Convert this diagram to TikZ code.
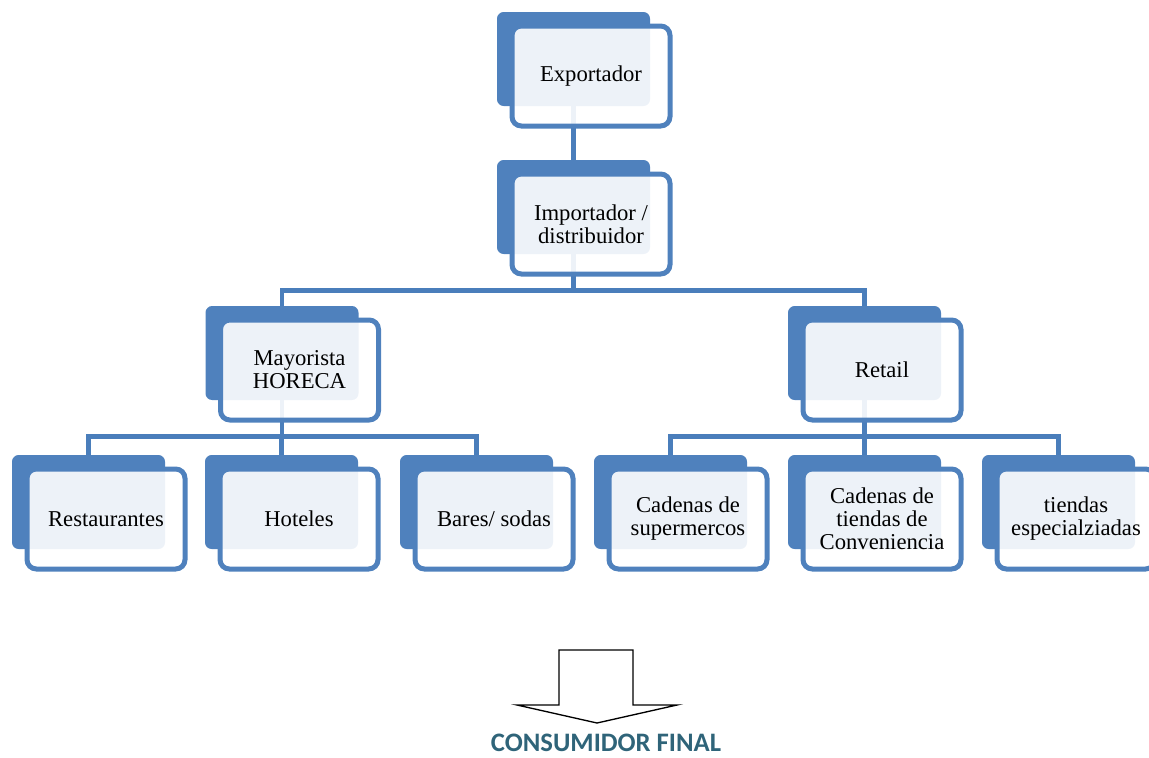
\documentclass[tikz,border=0pt]{standalone}
\usepackage{fontspec}
\setmainfont{Liberation Serif}
\newfontfamily\titlefont{Carlito}
\definecolor{boxblue}{HTML}{4F81BD}
\definecolor{linkblue}{HTML}{4A7EBB}
\definecolor{titleteal}{HTML}{2F6479}
\tikzset{
  backbox/.style={fill=boxblue, rounded corners=5pt, minimum width=114.75pt,
    minimum height=70.5pt, inner sep=0pt},
  frontbox/.style={draw=boxblue, line width=3.75pt, fill=white, fill opacity=0.9,
    text opacity=1, rounded corners=7pt, minimum width=118.5pt, minimum height=75pt,
    inner sep=2pt, align=center, font=\fontsize{17}{17.25}\selectfont},
  link/.style={draw=linkblue, line width=3.4pt}
}
\begin{document}
\begin{tikzpicture}[x=0.75pt, y=-0.75pt]
  \useasboundingbox (0,0) rectangle (1149,757);
  % back boxes
  \foreach \n/\x/\y in {exp/573.5/59, imp/573.5/207, may/282/353, ret/864.5/353,
      res/88.5/502, hot/281.5/502, bar/476.5/502, sup/670.5/502, con/864.5/502, esp/1058.5/502}
    \node[backbox] (\n) at (\x,\y) {};
  % links
  \draw[link] (exp.south) -- (imp.north);
  \draw[link] (imp.south) -- ++(0,36) -| (may.north);
  \draw[link] (imp.south) -- ++(0,36) -| (ret.north);
  \foreach \c in {res,hot,bar}
    \draw[link] (may.south) -- ++(0,36) -| (\c.north);
  \foreach \c in {sup,con,esp}
    \draw[link] (ret.south) -- ++(0,36) -| (\c.north);
  % front boxes
  \foreach \n/\t in {exp/{Exportador}, imp/{Importador /\\distribuidor},
      may/{Mayorista\\HORECA}, ret/{Retail}, res/{Restaurantes}, hot/{Hoteles},
      bar/{Bares/ sodas}, sup/{Cadenas de\\supermercos},
      con/{Cadenas de\\tiendas de\\Conveniencia}, esp/{tiendas\\especialziadas}}
    \node[frontbox] (\n-f) at ([shift={(17.5,17)}]\n.center) {\t};
  % block arrow
  \draw[line width=1pt, fill=white] (559,650) -- (633,650) -- (633,705) -- (677,705)
    -- (597,723) -- (517,705) -- (559,705) -- cycle;
  \node[font=\titlefont\bfseries\fontsize{20}{22}\selectfont, text=titleteal,
    anchor=base, inner sep=0pt] (final) at (606,751) {CONSUMIDOR FINAL};
\end{tikzpicture}
\end{document}
